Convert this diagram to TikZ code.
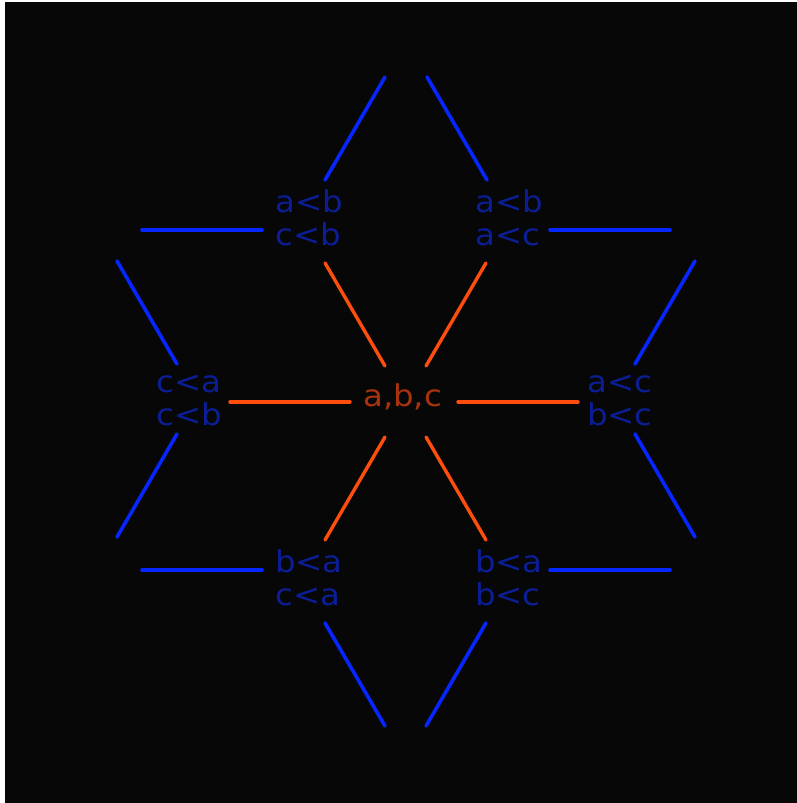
\documentclass[tikz,border=0pt]{standalone}
\usepackage{fontspec}
\newfontfamily\lblfont[FakeStretch=1.08]{DejaVu Sans}
\definecolor{bgc}{HTML}{070707}
\definecolor{blueline}{HTML}{0526FF}
\definecolor{bluetext}{HTML}{0C1E96}
\definecolor{orangeline}{HTML}{FF4D0D}
\definecolor{orangetext}{HTML}{A8330C}
\tikzset{
  lbl/.style={anchor=base west, inner sep=0pt, align=left, text=bluetext,
    font=\lblfont\fontsize{30}{33}\selectfont},
  clbl/.style={lbl, text=orangetext},
  bedge/.style={draw=blueline, line width=3.6pt, line cap=round},
  oedge/.style={draw=orangeline, line width=3.4pt, line cap=round}
}
\begin{document}
\begin{tikzpicture}[x=1pt,y=-1pt]
\useasboundingbox (0,0) rectangle (797,803);
\fill[white] (0,0) rectangle (797,803);
\fill[bgc] (5,2) rectangle (797,803);
% labels (base anchor = baseline of the last line)
\node[clbl] (c)  at (363,406) {a,b,c};
\node[lbl]  (tl) at (275,245) {a<b\\c<b};
\node[lbl]  (tr) at (475,245) {a<b\\a<c};
\node[lbl]  (l)  at (156,425) {c<a\\c<b};
\node[lbl]  (r)  at (587,425) {a<c\\b<c};
\node[lbl]  (bl) at (275,605) {b<a\\c<a};
\node[lbl]  (br) at (475,605) {b<a\\b<c};
% connector end points
\coordinate (c-tl) at (385,366); \coordinate (tl-c) at (325,263);
\coordinate (c-tr) at (426,366); \coordinate (tr-c) at (486,263);
\coordinate (c-l)  at (350,402); \coordinate (l-c)  at (230,402);
\coordinate (c-r)  at (458,402); \coordinate (r-c)  at (578,402);
\coordinate (c-bl) at (385,437); \coordinate (bl-c) at (325,540);
\coordinate (c-br) at (426,437); \coordinate (br-c) at (486,540);
\coordinate (tl-t) at (325,180); \coordinate (t-tl) at (385,77);
\coordinate (tr-t) at (487,180); \coordinate (t-tr) at (427,77);
\coordinate (tl-ul) at (262,230); \coordinate (ul-tl) at (142,230);
\coordinate (l-ul) at (177,364); \coordinate (ul-l) at (117,261);
\coordinate (l-ll) at (177,434); \coordinate (ll-l) at (117,537);
\coordinate (bl-ll) at (262,570); \coordinate (ll-bl) at (142,570);
\coordinate (bl-b) at (325,623); \coordinate (b-bl) at (385,726);
\coordinate (br-b) at (486,623); \coordinate (b-br) at (426,726);
\coordinate (br-lr) at (550,570); \coordinate (lr-br) at (670,570);
\coordinate (r-lr) at (635,434); \coordinate (lr-r) at (695,537);
\coordinate (r-ur) at (635,364); \coordinate (ur-r) at (695,261);
\coordinate (tr-ur) at (550,230); \coordinate (ur-tr) at (670,230);
% orange connectors
\draw[oedge] (c-tl) -- (tl-c);
\draw[oedge] (c-tr) -- (tr-c);
\draw[oedge] (c-l) -- (l-c);
\draw[oedge] (c-r) -- (r-c);
\draw[oedge] (c-bl) -- (bl-c);
\draw[oedge] (c-br) -- (br-c);
% blue connectors
\draw[bedge] (tl-t) -- (t-tl);
\draw[bedge] (tr-t) -- (t-tr);
\draw[bedge] (tl-ul) -- (ul-tl);
\draw[bedge] (l-ul) -- (ul-l);
\draw[bedge] (l-ll) -- (ll-l);
\draw[bedge] (bl-ll) -- (ll-bl);
\draw[bedge] (bl-b) -- (b-bl);
\draw[bedge] (br-b) -- (b-br);
\draw[bedge] (br-lr) -- (lr-br);
\draw[bedge] (r-lr) -- (lr-r);
\draw[bedge] (r-ur) -- (ur-r);
\draw[bedge] (tr-ur) -- (ur-tr);
\end{tikzpicture}
\end{document}
